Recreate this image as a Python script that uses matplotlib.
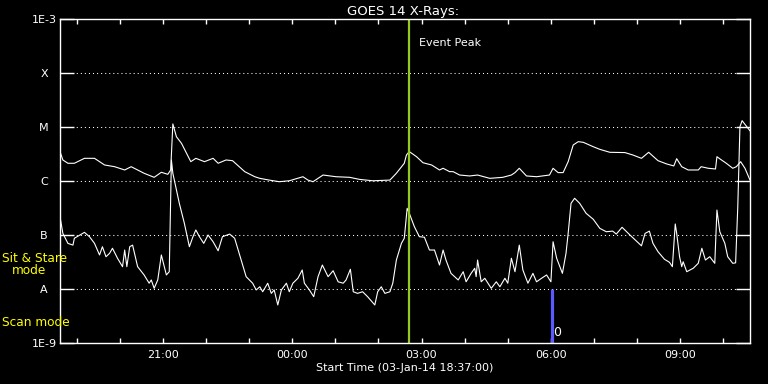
'''
GOES 14 X-ray flux plot, 03-Jan-14 18:37 start
'''

import matplotlib
matplotlib.use('Agg')
import matplotlib.pyplot as plt
import matplotlib.dates as mdates
from matplotlib.ticker import NullLocator
import pandas as pd

# minutes after 18:37 and flux (W/m^2), long channel 1-8 A
long_min = [0, 4, 11, 20, 34, 48, 62, 76, 90, 99,
            108, 117, 131, 141, 150, 154, 157, 162, 169, 182,
            189, 201, 213, 220, 231, 240, 257, 271, 278, 291,
            305, 319, 338, 345, 352, 366, 384, 403, 417, 435,
            459, 468, 479, 482, 486, 496, 505, 517, 528, 533,
            542, 547, 556, 570, 581, 598, 616, 628, 633, 639,
            649, 663, 681, 686, 693, 700, 707, 714, 721, 728,
            742, 751, 765, 786, 797, 809, 819, 832, 844, 854,
            858, 865, 874, 888, 892, 902, 912, 914, 919, 927,
            936, 941, 947, 953, 960]
long_flux = [3.5e-6, 2.45e-6, 2.13e-6, 2.13e-6, 2.63e-6, 2.63e-6, 1.98e-6, 1.84e-6, 1.60e-6, 1.84e-6,
             1.60e-6, 1.39e-6, 1.17e-6, 1.45e-6, 1.33e-6, 1.60e-6, 1.14e-5, 6.6e-6, 4.99e-6, 2.28e-6,
             2.63e-6, 2.28e-6, 2.63e-6, 2.13e-6, 2.45e-6, 2.38e-6, 1.49e-6, 1.20e-6, 1.12e-6, 1.04e-6,
             9.7e-7, 1.01e-6, 1.20e-6, 1.04e-6, 9.7e-7, 1.29e-6, 1.20e-6, 1.17e-6, 1.07e-6, 1.01e-6,
             1.04e-6, 1.39e-6, 2.13e-6, 3.03e-6, 3.5e-6, 2.82e-6, 2.18e-6, 1.98e-6, 1.60e-6, 1.72e-6,
             1.49e-6, 1.49e-6, 1.29e-6, 1.24e-6, 1.29e-6, 1.12e-6, 1.17e-6, 1.29e-6, 1.43e-6, 1.72e-6,
             1.24e-6, 1.20e-6, 1.29e-6, 1.72e-6, 1.43e-6, 1.43e-6, 2.28e-6, 4.64e-6, 5.35e-6, 5.21e-6,
             4.31e-6, 3.86e-6, 3.40e-6, 3.36e-6, 3.03e-6, 2.63e-6, 3.40e-6, 2.38e-6, 2.07e-6, 1.90e-6,
             2.59e-6, 1.84e-6, 1.60e-6, 1.60e-6, 1.84e-6, 1.72e-6, 1.67e-6, 2.82e-6, 2.52e-6, 2.13e-6,
             1.72e-6, 1.84e-6, 2.28e-6, 1.72e-6, 1.04e-6]

# short channel 0.5-4 A
short_min = [0, 4, 11, 18, 20, 34, 41, 48, 55, 59,
             64, 69, 73, 80, 87, 90, 93, 97, 101, 108,
             117, 124, 127, 131, 136, 141, 148, 152, 155, 157,
             166, 173, 180, 185, 189, 194, 200, 206, 213, 220,
             226, 236, 243, 259, 268, 273, 278, 282, 289, 294,
             298, 303, 308, 315, 319, 324, 331, 337, 340, 347,
             353, 359, 365, 373, 380, 387, 394, 398, 404, 408,
             414, 421, 428, 438, 442, 447, 452, 459, 463, 468,
             475, 479, 483, 486, 493, 500, 507, 514, 521, 528,
             533, 537, 544, 554, 561, 565, 572, 577, 579, 581,
             586, 591, 600, 607, 612, 619, 623, 628, 633, 639,
             644, 651, 658, 663, 670, 677, 683, 686, 691, 699,
             704, 707, 711, 716, 723, 732, 742, 751, 760, 769,
             774, 782, 793, 809, 814, 820, 825, 832, 841, 848,
             852, 856, 858, 862, 865, 867, 872, 881, 888, 893,
             898, 904, 911, 914, 918, 925, 929, 936, 940, 943,
             946, 949, 960]
short_flux = [2.18e-7, 1.07e-7, 7.0e-8, 6.5e-8, 8.7e-8, 1.12e-7, 9.3e-8, 7.0e-8, 4.27e-8, 6.07e-8,
              3.96e-8, 4.58e-8, 5.68e-8, 3.71e-8, 2.59e-8, 5.27e-8, 2.59e-8, 6.07e-8, 6.5e-8, 2.59e-8,
              1.82e-8, 1.28e-8, 1.47e-8, 1.03e-8, 1.47e-8, 4.27e-8, 1.82e-8, 2.09e-8, 2.45e-6, 1.39e-6,
              3.86e-7, 1.65e-7, 6.07e-8, 9.3e-8, 1.24e-7, 9.3e-8, 7.0e-8, 1.0e-7, 7.5e-8, 5.1e-8,
              9.3e-8, 1.04e-7, 8.7e-8, 1.69e-8, 1.28e-8, 9.6e-9, 1.10e-8, 8.9e-9, 1.28e-8, 8.3e-9,
              9.6e-9, 5.06e-9, 9.6e-9, 1.28e-8, 8.9e-9, 1.28e-8, 1.58e-8, 2.25e-8, 1.28e-8, 9.6e-9,
              7.2e-9, 1.69e-8, 2.78e-8, 1.69e-8, 2.18e-8, 1.36e-8, 1.28e-8, 1.47e-8, 2.32e-8, 8.9e-9,
              8.3e-9, 8.9e-9, 7.2e-9, 5.06e-9, 8.9e-9, 1.10e-8, 8.3e-9, 8.9e-9, 1.28e-8, 3.44e-8,
              7.0e-8, 8.7e-8, 3.12e-7, 2.52e-7, 1.43e-7, 9.3e-8, 9.1e-8, 5.27e-8, 5.27e-8, 2.78e-8,
              5.27e-8, 3.44e-8, 1.95e-8, 1.47e-8, 2.09e-8, 1.36e-8, 1.95e-8, 2.42e-8, 1.69e-8, 3.44e-8,
              1.36e-8, 1.58e-8, 1.03e-8, 1.36e-8, 1.10e-8, 1.58e-8, 1.28e-8, 3.71e-8, 2.09e-8, 6.5e-8,
              2.25e-8, 1.28e-8, 1.95e-8, 1.36e-8, 1.58e-8, 1.82e-8, 1.36e-8, 7.5e-8, 3.71e-8, 1.95e-8,
              4.58e-8, 1.07e-7, 3.86e-7, 4.79e-7, 3.86e-7, 2.52e-7, 1.95e-7, 1.33e-7, 1.15e-7, 1.18e-7,
              1.04e-7, 1.39e-7, 1.0e-7, 6.3e-8, 1.07e-7, 1.18e-7, 7.0e-8, 4.91e-8, 3.55e-8, 3.12e-8,
              2.59e-8, 1.60e-7, 1.07e-7, 3.96e-8, 2.59e-8, 3.2e-8, 2.09e-8, 2.42e-8, 2.99e-8, 5.68e-8,
              3.44e-8, 3.96e-8, 2.99e-8, 2.90e-7, 1.15e-7, 7.0e-8, 3.96e-8, 2.99e-8, 3.05e-8, 3.34e-7,
              1.01e-5, 1.31e-5, 8.5e-6]

start = pd.Timestamp('2014-01-03 18:37:00')
span_hours = 16
event_peak = pd.Timestamp('2014-01-04 02:42:00')
scan_time = pd.Timestamp('2014-01-04 06:02:00')

ylevels = [1e-9, 1e-8, 1e-7, 1e-6, 1e-5, 1e-4, 1e-3]
ylabels = ['1E-9', 'A', 'B', 'C', 'M', 'X', '1E-3']

fig = plt.figure(figsize=(7.68, 3.84), dpi=100, facecolor='black')
ax = fig.add_axes([60 / 768, 41 / 384, 690 / 768, 324 / 384], facecolor='black')

t_long = start + pd.to_timedelta(long_min, unit='m')
t_short = start + pd.to_timedelta(short_min, unit='m')

for v in ylevels[1:-1]:
    ax.axhline(v, color='white', lw=0.75, ls=(0, (1, 2.9)))

ax.plot(t_long, long_flux, color='white', lw=0.8)
ax.plot(t_short, short_flux, color='white', lw=0.8)

ax.axvline(event_peak, color='#96c81e', lw=1.6)
ax.plot([scan_time, scan_time], [1e-9, 1e-8], color='#5a5aff', lw=2.3, solid_capstyle='butt')
ax.text(scan_time + pd.Timedelta(minutes=1), 1.55e-9, '0', color='white', fontsize=9,
        ha='left', va='center')
ax.text(event_peak + pd.Timedelta(minutes=15), 3.6e-4, 'Event Peak', color='white',
        fontsize=8, ha='left', va='center')

ax.set_yscale('log')
ax.set_ylim(1e-9, 1e-3)
ax.set_xlim(start, start + pd.Timedelta(hours=span_hours))
ax.set_yticks(ylevels)
ax.set_yticklabels(ylabels)
ax.yaxis.set_minor_locator(NullLocator())
for lab in ax.get_yticklabels():
    lab.set_ha('center')
ax.tick_params(axis='y', which='major', direction='in', length=10, width=1,
               color='white', labelcolor='white', labelsize=8, pad=11.5,
               left=True, right=True)

ax.xaxis.set_major_locator(mdates.HourLocator(byhour=range(0, 24, 3)))
ax.xaxis.set_minor_locator(mdates.HourLocator())
ax.xaxis.set_major_formatter(mdates.DateFormatter('%H:%M'))
ax.tick_params(axis='x', which='both', direction='in', length=3.5, width=1,
               color='white', labelcolor='white', labelsize=8, pad=5,
               top=True, bottom=True)

for s in ax.spines.values():
    s.set_color('white')
    s.set_linewidth(1)

fig.text(403 / 768, 1 - 11 / 384, 'GOES 14 X-Rays:', color='white', fontsize=9.5,
         ha='center', va='center')
fig.text(405 / 768, 1 - 368 / 384, 'Start Time (03-Jan-14 18:37:00)', color='white',
         fontsize=8, ha='center', va='center')
fig.text(2 / 768, 1 - 258 / 384, 'Sit & Stare', color='yellow', fontsize=8.7,
         ha='left', va='center')
fig.text(12 / 768, 1 - 271 / 384, 'mode', color='yellow', fontsize=8.7,
         ha='left', va='center')
fig.text(2 / 768, 1 - 323 / 384, 'Scan mode', color='yellow', fontsize=8.7,
         ha='left', va='center')

plt.savefig('out.png', dpi=100, facecolor='black')
